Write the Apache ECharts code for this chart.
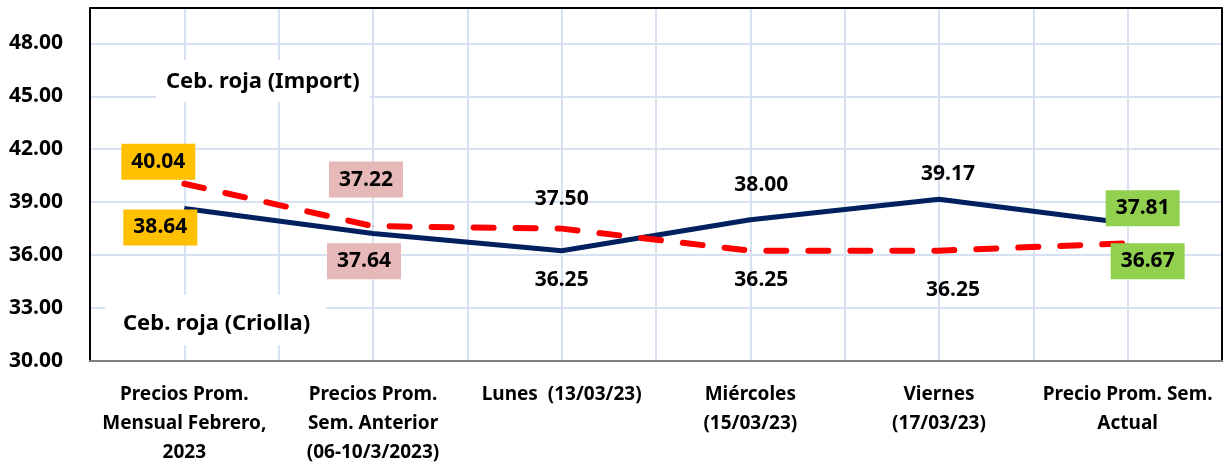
<!DOCTYPE html>
<html>
<head>
<meta charset="utf-8">
<script src="https://cdn.jsdelivr.net/npm/echarts@6/dist/echarts.min.js"></script>
<style>
  html, body { margin: 0; padding: 0; background: #fff; }
  #chart { width: 1228px; height: 467px; }
</style>
</head>
<body>
<div id="chart"></div>
<script>
const categories = [
  "Precios Prom.\nMensual Febrero,\n2023",
  "Precios Prom.\nSem. Anterior\n(06-10/3/2023)",
  "Lunes  (13/03/23)",
  "Miércoles\n(15/03/23)",
  "Viernes\n(17/03/23)",
  "Precio Prom. Sem.\nActual",
];
const criollaValues = [38.64, 37.22, 36.25, 38.0, 39.17, 37.81];
const importValues = [40.04, 37.64, 37.5, 36.25, 36.25, 36.67];
const labelBoxColors = ["#ffc000", "#e6b8b7", null, null, null, "#92d050"];
// label offsets, picked by eye from the reference
const criollaOffsets = [[-24, 19], [-7, -54], [0, 29], [11, -35], [9, -25], [15, -15]];
const importOffsets = [[-26, -22], [-9, 35], [0, -30], [11, 29], [14, 39], [20, 18]];

const FONT = "'Noto Sans', sans-serif";
const gridColor = "#d6e1f1";

function buildData(values, offsets) {
  return values.map((v, i) => ({
    value: v,
    label: {
      offset: offsets[i],
      backgroundColor: labelBoxColors[i] || "transparent",
      padding: labelBoxColors[i] ? [8, 10, 7, 10] : 0,
    },
  }));
}

const chart = echarts.init(document.getElementById("chart"));
const option = {
  animation: false,
  grid: { left: 90, right: 6, top: 8, bottom: 105 },
  xAxis: [
    {
      type: "category",
      data: categories,
      boundaryGap: true,
      axisLine: { lineStyle: { color: "#7f7f7f", width: 2 } },
      axisTick: { length: 9, lineStyle: { color: gridColor, width: 2 } },
      splitLine: { show: false },
      axisLabel: {
        interval: 0,
        margin: 19,
        color: "#000",
        fontFamily: FONT,
        fontWeight: "bold",
        fontSize: 19,
        lineHeight: 29,
        align: "center",
      },
    },
    {
      // half-category grid lines plus the black top border
      type: "value",
      position: "top",
      min: 0,
      max: 12,
      interval: 1,
      axisLine: { show: true, lineStyle: { color: "#000", width: 2 } },
      axisTick: { show: false },
      axisLabel: { show: false },
      splitLine: { show: true, lineStyle: { color: gridColor, width: 2 } },
    },
  ],
  yAxis: [
    {
      type: "value",
      min: 30,
      max: 50,
      interval: 3,
      axisLine: { show: true, lineStyle: { color: "#000", width: 2 } },
      axisTick: { show: false },
      splitLine: { lineStyle: { color: gridColor, width: 2 } },
      axisLabel: {
        margin: 27,
        showMaxLabel: false,
        color: "#000",
        fontFamily: FONT,
        fontWeight: "bold",
        fontSize: 21,
        formatter: (v) => v.toFixed(2),
      },
    },
    {
      type: "value",
      position: "right",
      min: 30,
      max: 50,
      interval: 3,
      axisLine: { show: true, lineStyle: { color: "#000", width: 2 } },
      axisTick: { show: false },
      axisLabel: { show: false },
      splitLine: { show: false },
    },
  ],
  series: [
    {
      name: "Ceb. roja (Criolla)",
      type: "line",
      data: buildData(criollaValues, criollaOffsets),
      symbol: "circle",
      symbolSize: 1,
      showSymbol: true,
      itemStyle: { color: "#002060" },
      lineStyle: { color: "#002060", width: 5 },
      z: 3,
      label: {
        show: true,
        position: "inside",
        color: "#000",
        fontFamily: FONT,
        fontWeight: "bold",
        fontSize: 21,
        formatter: (p) => p.value.toFixed(2),
      },
    },
    {
      name: "Ceb. roja (Import)",
      type: "line",
      data: buildData(importValues, importOffsets),
      symbol: "circle",
      symbolSize: 1,
      showSymbol: true,
      itemStyle: { color: "#ff0000" },
      lineStyle: { color: "#ff0000", width: 6, type: [20, 22], cap: "round" },
      z: 4,
      label: {
        show: true,
        position: "inside",
        color: "#000",
        fontFamily: FONT,
        fontWeight: "bold",
        fontSize: 21,
        formatter: (p) => p.value.toFixed(2),
      },
    },
  ],
  graphic: [
    {
      type: "text",
      left: 156,
      top: 60,
      z: 10,
      style: {
        text: "Ceb. roja (Import)",
        fill: "#000",
        font: "bold 22px " + FONT,
        backgroundColor: "#fff",
        padding: [11, 10, 9, 10],
      },
    },
    {
      type: "text",
      left: 105,
      top: 295,
      z: 10,
      style: {
        text: "Ceb. roja (Criolla)",
        fill: "#000",
        font: "bold 22px " + FONT,
        backgroundColor: "#fff",
        padding: [18, 16, 10, 18],
      },
    },
  ],
};
chart.setOption(option);
</script>
</body>
</html>
